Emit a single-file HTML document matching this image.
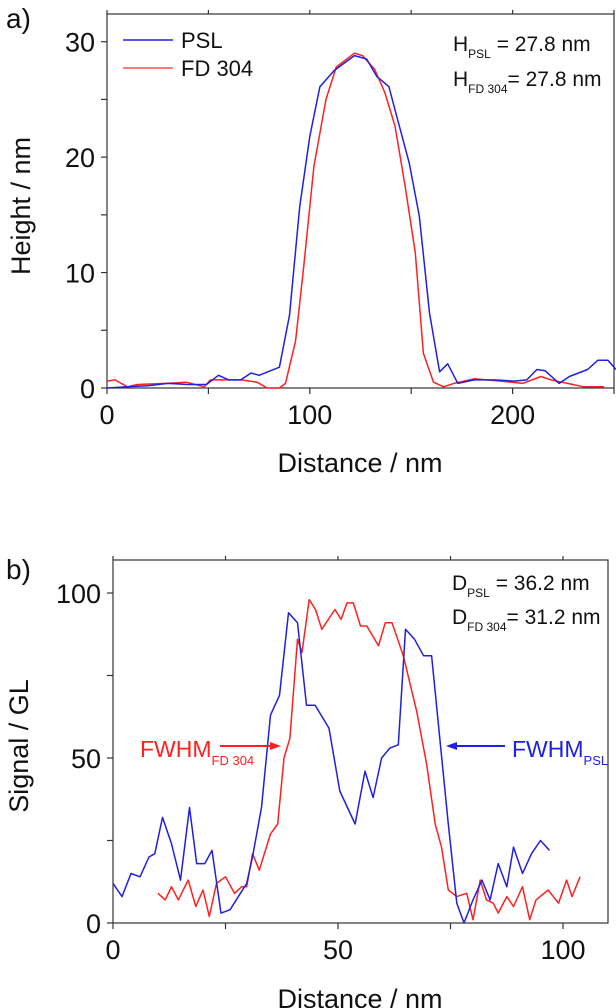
<!DOCTYPE html>
<html><head><meta charset="utf-8">
<style>
html,body{margin:0;padding:0;background:#fff;}
svg{display:block;font-family:"Liberation Sans",Arial,sans-serif;}
</style></head>
<body>
<svg id="fig" width="616" height="1008" viewBox="0 0 616 1008">
</svg>
<script>
// ---- Panel a data ----
const aPslX = [0,10,20,30,40,49,55,60,66,71,75,85,90,95,100,105,112,122,128,133,139,142,149,154,159,164,168,173,181,191,201,207,212,216,223,228,237,242,247,251];
const aPslY = [0.0,0.1,0.2,0.4,0.3,0.3,1.1,0.7,0.7,1.3,1.1,1.8,6.3,15.7,21.8,26.1,27.5,28.8,28.5,27.0,26.1,24.1,19.5,14.9,6.5,1.4,2.1,0.4,0.7,0.7,0.6,0.7,1.6,1.5,0.4,1.0,1.6,2.4,2.4,1.6];
const aFdX = [0,4,10,15,29,39,48,51,66,74,79,85,88,93,97,102,108,113,122,126,132,137,142,147,152,156,161,166,171,181,194,205,214,219,227,235,245];
const aFdY = [0.6,0.7,0.1,0.3,0.4,0.5,0.1,0.7,0.7,0.5,0.0,0.0,0.4,4.1,10.5,19.2,25.0,27.8,29.0,28.8,27.6,25.6,22.7,17.5,11.7,3.0,0.5,0.1,0.4,0.8,0.6,0.4,1.0,0.7,0.4,0.1,0.1];
const aXTicks = [0,100,200];
const aYTicks = [0,10,20,30];
// ---- Panel b data ----
const bPslX = [0,2,4,6,8,9.3,11,13,15,17,18.6,20.4,22,24,26,29.7,31,33,35,37,39,41,43,44.9,46.7,48,50.4,53.8,56,57.8,59.7,61.5,63.4,65,67,69,70.8,72.7,74.5,76.4,78,80,82,83.8,85.6,87.5,89,91,93,95,97];
const bPslY = [12,8,15,14,20,21,32,24,13,35,18,18,22,3,4,12,20,35,63,69,94,91,66,66,62,59,40,30,46,38,50,53,54,89,86,81,81,55,30,6,0,7,13,7,18,11,23,15,21,25,22];
const bFdX = [10,11.6,13,14.5,16.7,18.4,20,21.4,23,25,27,28.6,29.7,31,32.5,35,36.6,38,39.3,41,42,43.6,45,46.4,49.3,50.7,52,53.4,55,56.4,59,60.5,62,64.5,67.5,69.7,71.6,73,74.5,76.4,78.6,80,81.6,83,84.5,85.6,87.5,89,91,92.6,94,96.7,99,100.8,102,103.8];
const bFdY = [9,7,11,7,13,5,10,2,12,14,9,11,11,21,16,27,30,50,56,86,82,98,95,89,95,92,97,97,90,90,84,91,91,81,64,48,30,23,10,8,9,1,13,7,6,3,8,5,11,1,7,10,6,13,8,14];
const bXTicks = [0,50,100];
const bYTicks = [0,50,100];

const NS = "http://www.w3.org/2000/svg";
const svg = document.getElementById('fig');
function mk(tag, attrs, parent){
  const e = document.createElementNS(NS, tag);
  for (const k in attrs) e.setAttribute(k, attrs[k]);
  (parent||svg).appendChild(e);
  return e;
}
function panel(cfg){
  const {L,R,T,B,xmin,xmax,ymin,ymax,xt,yt,xMinor,yMinor,prefix} = cfg;
  const sx = v => L + (v-xmin)/(xmax-xmin)*(R-L);
  const sy = v => B - (v-ymin)/(ymax-ymin)*(B-T);
  const g = mk('g', {});
  
  
  const frame = mk('rect', {x:L,y:T,width:R-L,height:B-T,fill:'none',stroke:'#333','stroke-width':1.2}, g);
  
  
  const xs = []; for (let v=xmin; v<=xmax+1e-9; v+=xMinor) xs.push(v);
  xs.forEach(v=>{
    const x=sx(v);
    const t1 = mk('line',{x1:x,x2:x,y1:B,y2:B+6,stroke:'#333','stroke-width':1.2},g);
    
    
    const t2 = mk('line',{x1:x,x2:x,y1:T,y2:T-4,stroke:'#333','stroke-width':1.2},g);
    
    
  });
  const ys = []; for (let v=ymin; v<=ymax+1e-9; v+=yMinor) ys.push(v);
  ys.forEach(v=>{
    const y=sy(v);
    const t1 = mk('line',{x1:L-6,x2:L,y1:y,y2:y,stroke:'#333','stroke-width':1.2},g);
    
    
  });
  xt.forEach(v=>{
    const t = mk('text',{x:sx(v),y:B+36,'font-size':27,'text-anchor':'middle',fill:'#111'},g);
    t.textContent = v;
    
    
  });
  yt.forEach(v=>{
    const t = mk('text',{x:L-12,y:sy(v)+10,'font-size':27,'text-anchor':'end',fill:'#111'},g);
    t.textContent = v;
    
    
  });
  return {sx,sy,g};
}
function series(p, X, Y, color, name){
  const d = X.map((x,i)=>(i?'L':'M')+p.sx(x).toFixed(1)+','+p.sy(Y[i]).toFixed(1)).join(' ');
  const path = mk('path',{d:d,fill:'none',stroke:color,'stroke-width':1.5,'stroke-linejoin':'round'},p.g);
  
  
}
function txt(x,y,s,size,color,name,extra){
  const t = mk('text',Object.assign({x:x,y:y,'font-size':size,fill:color},extra||{}));
  t.innerHTML = s;
  
  
  return t;
}

// Panel a
const pa = panel({L:107,R:614,T:14,B:388,xmin:0,xmax:250,ymin:0,ymax:32.4,xt:aXTicks,yt:aYTicks,xMinor:50,yMinor:5,prefix:'a'});
series(pa, aFdX, aFdY, '#ff2020', 'a-series-fd304');
series(pa, aPslX, aPslY, '#2020e0', 'a-series-psl');
const l1 = mk('line',{x1:123,x2:173,y1:40,y2:40,stroke:'#2020e0','stroke-width':1.5});


txt(181,48,'PSL',22,'#111','legend-psl-label');
const l2 = mk('line',{x1:123,x2:173,y1:68,y2:68,stroke:'#ff5050','stroke-width':1.5});


txt(181,76,'FD 304',22,'#111','legend-fd304-label');
txt(453,51,'H<tspan font-size="12" dy="7">PSL</tspan><tspan dy="-7"> = 27.8 nm</tspan>',21,'#111','a-annotation-h-psl');
txt(453,86,'H<tspan font-size="12" dy="7">FD 304</tspan><tspan dy="-7">= 27.8 nm</tspan>',21,'#111','a-annotation-h-fd304');
txt(6,28,'a)',28,'#111','a-panel-label');
txt(30,206,'Height / nm',27,'#111','a-y-axis-title',{transform:'rotate(-90 30 206)','text-anchor':'middle'});
txt(360,472,'Distance / nm',27,'#111','a-x-axis-title',{'text-anchor':'middle'});

// Panel b
const pb = panel({L:113,R:608,T:560,B:923,xmin:0,xmax:110,ymin:0,ymax:110,xt:bXTicks,yt:bYTicks,xMinor:25,yMinor:25,prefix:'b'});
series(pb, bFdX, bFdY, '#ff2020', 'b-series-fd304');
series(pb, bPslX, bPslY, '#2020e0', 'b-series-psl');
txt(452,590,'D<tspan font-size="12" dy="7">PSL</tspan><tspan dy="-7"> = 36.2 nm</tspan>',21,'#111','b-annotation-d-psl');
txt(452,624,'D<tspan font-size="12" dy="7">FD 304</tspan><tspan dy="-7">= 31.2 nm</tspan>',21,'#111','b-annotation-d-fd304');
txt(140,757,'FWHM<tspan font-size="13" dy="8">FD 304</tspan>',23,'#ff2020','fwhm-fd304-label');
txt(512,757,'FWHM<tspan font-size="13" dy="8">PSL</tspan>',23,'#2020e0','fwhm-psl-label');
const ar1 = mk('line',{x1:220,x2:274,y1:746,y2:746,stroke:'#ff2020','stroke-width':2});


const ah1 = mk('polygon',{points:'281,746 270,742 270,750',fill:'#ff2020'});


const ar2 = mk('line',{x1:505,x2:453,y1:746,y2:746,stroke:'#2020e0','stroke-width':2});


const ah2 = mk('polygon',{points:'446,746 457,742 457,750',fill:'#2020e0'});


txt(6,579,'b)',28,'#111','b-panel-label');
txt(28,746,'Signal / GL',27,'#111','b-y-axis-title',{transform:'rotate(-90 28 746)','text-anchor':'middle'});
txt(360,1008,'Distance / nm',27,'#111','b-x-axis-title',{'text-anchor':'middle'});
</script>
</body></html>
